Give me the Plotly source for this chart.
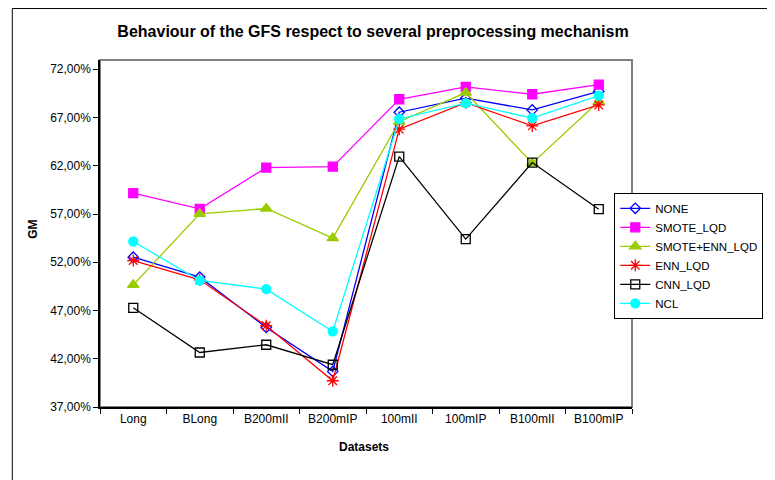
import plotly.graph_objects as go

datasets = ["Long", "BLong", "B200mII", "B200mIP", "100mII", "100mIP", "B100mII", "B100mIP"]

none_vals = [52.53, 50.46, 45.24, 40.69, 67.55, 69.00, 67.79, 69.72]
smote_lqd = [59.16, 57.53, 61.81, 61.91, 68.89, 70.17, 69.41, 70.41]
smote_enn_lqd = [49.66, 57.02, 57.57, 54.50, 66.57, 69.58, 62.27, 68.65]
enn_lqd = [52.18, 50.18, 45.42, 39.72, 65.79, 68.54, 66.13, 68.30]
cnn_lqd = [47.28, 42.65, 43.45, 41.38, 62.95, 54.40, 62.33, 57.50]
ncl = [54.15, 50.11, 49.22, 44.83, 66.85, 68.48, 66.93, 69.27]

y_ticks = [37, 42, 47, 52, 57, 62, 67, 72]
y_tick_labels = ["37,00%", "42,00%", "47,00%", "52,00%", "57,00%", "62,00%", "67,00%", "72,00%"]

FONT = "Liberation Sans, Arial, sans-serif"

series = [
    ("NONE", none_vals, "#0000FF", "diamond-open", 8),
    ("SMOTE_LQD", smote_lqd, "#FF00FF", "square", 9),
    ("SMOTE+ENN_LQD", smote_enn_lqd, "#99CC00", "triangle-up", 10),
    ("ENN_LQD", enn_lqd, "#FF0000", "asterisk-open", 10),
    ("CNN_LQD", cnn_lqd, "#000000", "square-open", 9),
    ("NCL", ncl, "#00FFFF", "circle", 9),
]

fig = go.Figure()
for name, vals, color, sym, size in series:
    fig.add_trace(go.Scatter(
        x=datasets, y=vals, name=name, mode="lines+markers",
        line=dict(color=color, width=1.3),
        marker=dict(symbol=sym, size=size, color=color,
                    line=dict(color=color, width=1.3)),
    ))

OFF = 8  # page body margin
W, H = 775 - OFF, 480 - OFF
L, T = 100 - OFF, 60 - OFF
R = W - (640 - OFF)
B = H - (407.3 - OFF)
pw, ph = W - L - R, H - T - B

def px(x):
    return (x - OFF - L) / pw

def py(y):
    return (H - B - (y - OFF)) / ph

fig.update_layout(
    width=W, height=H,
    margin=dict(l=L, r=R, t=T, b=B, pad=0),
    paper_bgcolor="white", plot_bgcolor="white",
    font=dict(family=FONT, size=12, color="black"),
    title=dict(text="<b>Behaviour of the GFS respect to several preprocessing mechanism</b>",
               x=(373 - OFF) / W, xanchor="center", y=1 - (31.5 - OFF) / H, yanchor="middle",
               font=dict(family=FONT, size=16, color="black")),
    xaxis=dict(showgrid=False, zeroline=False, showline=True, linecolor="black", linewidth=1.5,
               ticks="outside", ticklen=5, tickcolor="black", tickson="boundaries",
               tickfont=dict(family=FONT, size=12), range=[-0.5, 7.5]),
    yaxis=dict(showgrid=False, zeroline=False, showline=True, linecolor="black", linewidth=1.5,
               ticks="outside", ticklen=5, tickcolor="black",
               tickmode="array", tickvals=y_ticks, ticktext=y_tick_labels,
               tickfont=dict(family=FONT, size=12), range=[37, 72.96]),
    legend=dict(x=px(622), y=py(256), xanchor="left", yanchor="middle",
                bgcolor="white", bordercolor="black", borderwidth=1,
                font=dict(family=FONT, size=11.5), tracegroupgap=0, itemwidth=30),
    showlegend=True,
    shapes=[
        dict(type="rect", xref="paper", yref="paper", x0=0, x1=1, y0=0, y1=1,
             line=dict(color="#808080", width=2), layer="below"),
        dict(type="rect", xref="paper", yref="paper",
             x0=px(11), x1=px(800), y0=py(500), y1=py(OFF + 0.5),
             line=dict(color="black", width=1)),
    ],
    annotations=[
        dict(text="<b>GM</b>", xref="paper", yref="paper", x=px(32), y=py(230),
             showarrow=False, textangle=-90, font=dict(family=FONT, size=12),
             xanchor="center", yanchor="middle"),
        dict(text="<b>Datasets</b>", xref="paper", yref="paper", x=px(368), y=py(447),
             showarrow=False, font=dict(family=FONT, size=12),
             xanchor="center", yanchor="middle"),
    ],
)

fig.write_html("out.html")
